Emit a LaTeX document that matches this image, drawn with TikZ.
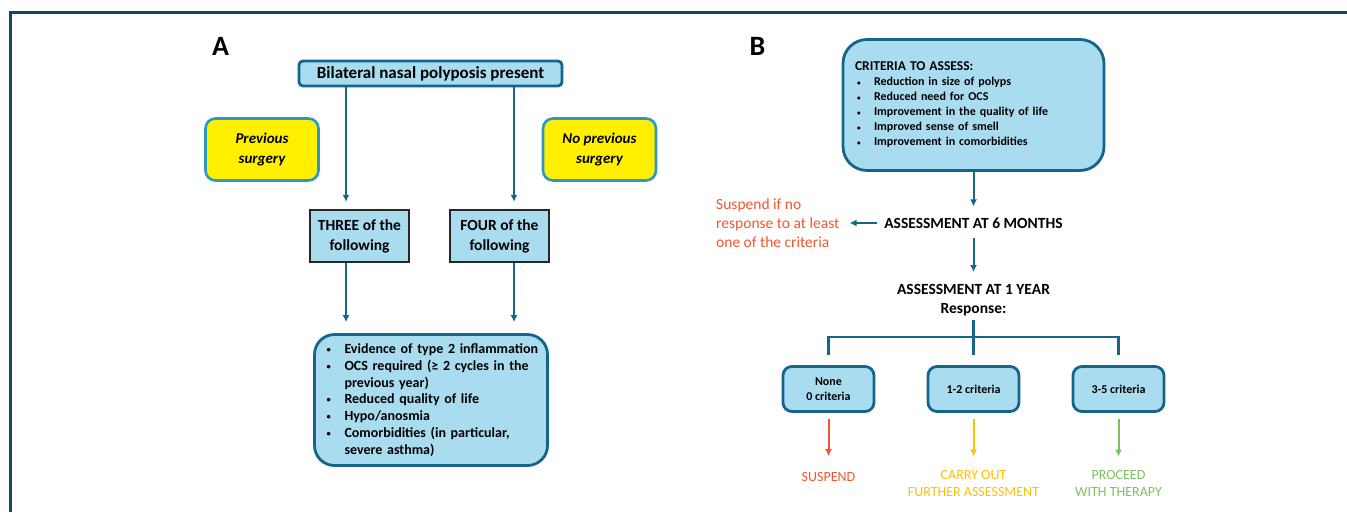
\documentclass[tikz,border=0pt]{standalone}
\usepackage{fontspec}
\setmainfont{Carlito}
\usetikzlibrary{positioning}
\usetikzlibrary{arrows.meta}

\definecolor{boxfill}{RGB}{170,220,239}
\definecolor{boxedge}{RGB}{21,101,139}
\definecolor{framenavy}{RGB}{24,69,101}
\definecolor{lemon}{RGB}{255,240,0}
\definecolor{lemonedge}{RGB}{44,152,197}
\definecolor{stopred}{RGB}{240,88,48}
\definecolor{waitgold}{RGB}{255,192,0}
\definecolor{gogreen}{RGB}{124,195,92}

\newcommand{\critem}[2][18pt]{\mbox{\makebox[#1][l]{\raisebox{0.15ex}{\scalebox{0.6}{\textbullet}}}#2}}

\tikzset{
	flow/.style={draw=#1, line width=2pt, -{Latex[length=7pt,width=7pt]}},
	flow/.default=boxedge,
	link/.style={draw=boxedge, line width=2.8pt},
	bluebox/.style={draw=boxedge, fill=boxfill, line width=2.8pt, align=center},
	surgbox/.style={draw=lemonedge, fill=lemon, line width=2.6pt, rounded corners=10pt, minimum width=113pt, minimum height=62pt, align=center, font=\fontsize{15}{19.5}\selectfont\bfseries\itshape},
	countbox/.style={draw=black!85, fill=boxfill, line width=2.4pt, minimum width=99pt, minimum height=52pt, align=center, font=\fontsize{15.5}{20}\selectfont\bfseries},
	respbox/.style={bluebox, rounded corners=9pt, minimum width=91pt, minimum height=45pt, font=\fontsize{12}{14.5}\selectfont\bfseries},
	steplbl/.style={inner sep=0pt, align=center, font=\fontsize{15.5}{19}\selectfont\bfseries},
	outlbl/.style={inner sep=0pt, align=center, text=#1, font=\fontsize{14}{16.5}\selectfont},
	panel/.style={inner sep=0pt, font=\fontsize{28}{30}\selectfont\bfseries},
}

\begin{document}
\begin{tikzpicture}[x=1pt,y=1pt]
	\useasboundingbox (0,0) rectangle (1347,-512);
	\draw[framenavy, line width=3pt] (10,-512) |- (1347,-12);

	\node[panel] (pa) at (220.5,-46) {A};
	\node[panel] (pb) at (757.5,-46) {B};

	\node[bluebox, rounded corners=4pt, minimum width=263pt, minimum height=25pt, font=\fontsize{17}{20}\selectfont\bfseries] (bnp) at (430.5,-73.5) {Bilateral nasal polyposis present};
	\node[surgbox] (prev) at (262,-149.5) {Previous\\surgery};
	\node[surgbox] (noprev) at (599.5,-149.5) {No previous\\surgery};
	\node[countbox] (three) at (359.5,-236) {THREE of the\\following};
	\node[countbox] (four) at (499.5,-236) {FOUR of the\\following};
	\node[bluebox, rounded corners=20pt, text width=209pt, inner xsep=12pt, minimum height=131pt, align=left, font=\fontsize{14}{16.8}\selectfont\bfseries] (critA) at (431,-400) {\critem{Evidence of type 2 inflammation}\\\critem{OCS required (≥ 2 cycles in the}\\\mbox{\hspace*{18pt}previous year)}\\\critem{Reduced quality of life}\\\critem{Hypo/anosmia}\\\critem{Comorbidities (in particular,}\\\mbox{\hspace*{18pt}severe asthma)}};
	\coordinate (lcol) at (346,0);
	\coordinate (rcol) at (514,0);

	\node[bluebox, rounded corners=24pt, text width=237pt, inner xsep=12pt, minimum height=131pt, align=left, font=\fontsize{12}{15}\selectfont\bfseries] (critB) at (973.5,-105) {{\fontsize{13.5}{15}\selectfont CRITERIA TO ASSESS:}\\\hspace*{2pt}\critem[17pt]{Reduction in size of polyps}\\\hspace*{2pt}\critem[17pt]{Reduced need for OCS}\\\hspace*{2pt}\critem[17pt]{Improvement in the quality of life}\\\hspace*{2pt}\critem[17pt]{Improved sense of smell}\\\hspace*{2pt}\critem[17pt]{Improvement in comorbidities}};
	\node[steplbl] (m6) at (973.5,-223) {ASSESSMENT AT 6 MONTHS};
	\node[outlbl=stopred, align=left, font=\fontsize{15.5}{19}\selectfont, anchor=west] (susp6) at (716,-223) {Suspend if no\\response to at least\\one of the criteria};
	\node[steplbl] (y1) at (973.5,-300) {ASSESSMENT AT 1 YEAR\\Response:};
	\coordinate (bar) at (973.5,-337);
	\node[respbox] (none) at (828.5,-389) {None\\0 criteria};
	\node[respbox] (two) at (973.5,-389) {1-2 criteria};
	\node[respbox] (five) at (1118.5,-389) {3-5 criteria};
	\node[outlbl=stopred] (stop) at (828.5,-477) {SUSPEND};
	\node[outlbl=waitgold] (more) at (973.5,-483.5) {CARRY OUT\\FURTHER ASSESSMENT};
	\node[outlbl=gogreen] (go) at (1118.5,-483.5) {PROCEED\\WITH THERAPY};

	\draw[flow, shorten >=7pt] (bnp.south -| lcol) -- (three.north -| lcol);
	\draw[flow, shorten >=7pt] (bnp.south -| rcol) -- (four.north -| rcol);
	\draw[flow, shorten >=11pt] (three.south -| lcol) -- (critA.north -| lcol);
	\draw[flow, shorten >=11pt] (four.south -| rcol) -- (critA.north -| rcol);

	\draw[flow, shorten >=11pt] (critB) -- (m6);
	\draw[flow, shorten <=7pt, shorten >=10pt] (m6) -- (susp6);
	\draw[flow, shorten <=9pt, shorten >=12pt] (m6) -- (y1);
	\draw[link, shorten <=4pt, shorten >=10pt] (y1.south) -- (two.north);
	\draw[link, shorten <=10pt, shorten >=10pt] (none.north) -- (none.north |- bar) -- (five.north |- bar) -- (five.north);
	\draw[flow=stopred, shorten <=6pt, shorten >=16pt] (none.south) -- (stop.north);
	\draw[flow=waitgold, shorten <=6pt, shorten >=14pt] (two.south) -- (more.north);
	\draw[flow=gogreen, shorten <=6pt, shorten >=14pt] (five.south) -- (go.north);
\end{tikzpicture}
\end{document}
